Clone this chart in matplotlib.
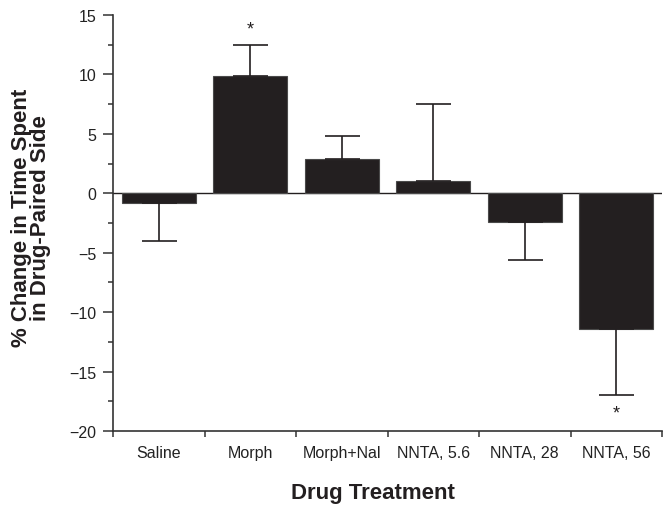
import numpy as np
import matplotlib
matplotlib.use("Agg")
import matplotlib.pyplot as plt
from matplotlib.ticker import MultipleLocator, FixedLocator

# values
treatments = ["Saline", "Morph", "Morph+Nal", "NNTA, 5.6", "NNTA, 28", "NNTA, 56"]
change = [-0.85, 9.9, 2.9, 1.05, -2.4, -11.4]
sem = [3.15, 2.55, 1.9, 6.5, 3.2, 5.6]
star_y = [None, 13.8, None, None, None, -18.45]  # significance marks

plt.rcParams['font.family'] = ['Liberation Sans', 'DejaVu Sans']
ink = '#231f20'

fig = plt.figure(figsize=(6.67, 5.06), dpi=100)
ax = fig.add_axes([113/667, 1-432/506, (662-113)/667, (432-16)/506])

x = np.arange(len(treatments))
# one-sided error bars, pointing away from zero
lower = [s if v < 0 else 0 for v, s in zip(change, sem)]
upper = [s if v >= 0 else 0 for v, s in zip(change, sem)]
ax.bar(x, change, width=0.81, color=ink, edgecolor='#4a4a4a', linewidth=0.8, zorder=2)
ax.errorbar(x, change, yerr=[lower, upper], fmt='none', ecolor=ink,
            elinewidth=1.2, capsize=12.6, capthick=1.2, zorder=3)
ax.axhline(0, color=ink, lw=1.0, zorder=1)

for xi, sy in zip(x, star_y):
    if sy is not None:
        ax.text(xi, sy, '*', ha='center', va='center', fontsize=13, color=ink)

ax.set_xlim(-0.5, 5.5)
ax.set_ylim(-20, 15)
ax.spines['top'].set_visible(False)
ax.spines['right'].set_visible(False)
for s in ('left', 'bottom'):
    ax.spines[s].set_color('#333333')
    ax.spines[s].set_linewidth(1.2)

ax.yaxis.set_major_locator(MultipleLocator(5))
ax.yaxis.set_minor_locator(MultipleLocator(2.5))
ax.tick_params(axis='y', which='major', length=7, width=1.1, pad=5,
               labelsize=11.5, colors='#333333', labelcolor='#222222')
ax.tick_params(axis='y', which='minor', length=3.5, width=1.1, colors='#333333')

ax.xaxis.set_major_locator(FixedLocator(np.arange(-0.5, 6, 1)))
ax.xaxis.set_major_formatter(plt.NullFormatter())
ax.xaxis.set_minor_locator(FixedLocator(x))
ax.set_xticklabels(treatments, minor=True)
ax.tick_params(axis='x', which='major', length=4, width=1.1, colors='#333333')
ax.tick_params(axis='x', which='minor', length=0, pad=10, labelsize=11.5,
               labelcolor='#222222')

fig.text(373/667, 1-494/506, 'Drug Treatment', ha='center', va='center',
         fontsize=16, fontweight='bold', color=ink)
fig.text(31/667, 1-218/506, '% Change in Time Spent\nin Drug-Paired Side',
         ha='center', va='center', rotation=90, fontsize=16,
         fontweight='bold', color=ink, linespacing=0.92)

fig.savefig('out.png', dpi=100)
